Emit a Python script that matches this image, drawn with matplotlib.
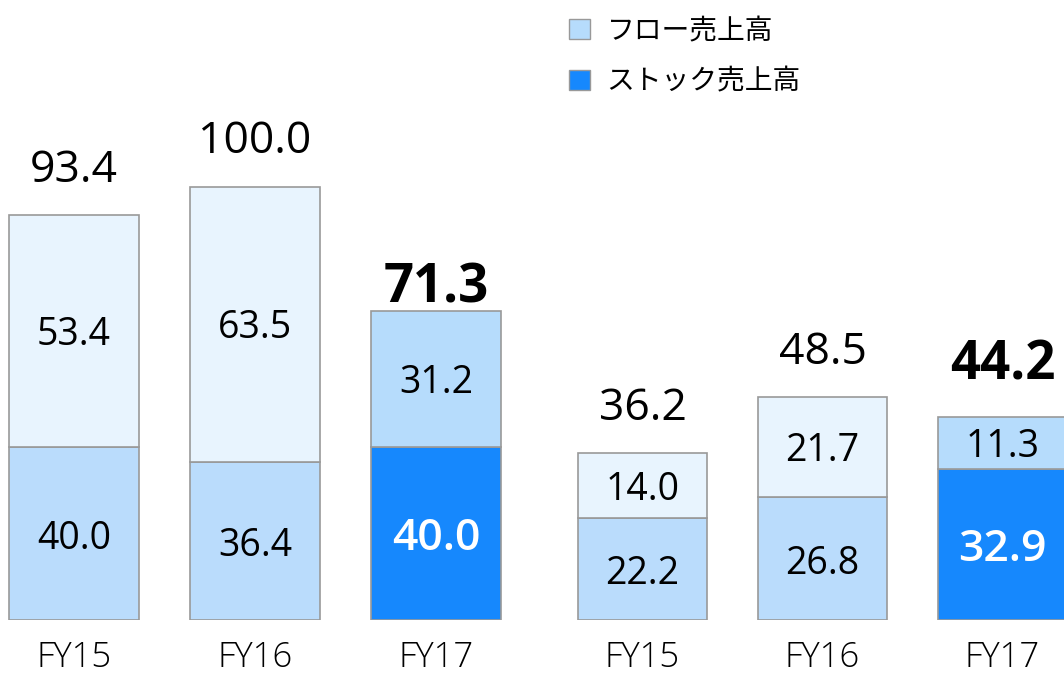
import matplotlib.pyplot as plt
from matplotlib.patches import Patch

plt.rcParams['font.family'] = ['Open Sans', 'Noto Sans CJK JP', 'DejaVu Sans']

# data
years = ["FY15", "FY16", "FY17"]
left_stock = [40.0, 36.4, 40.0]
left_flow = [53.4, 63.5, 31.2]
left_total = [93.4, 100.0, 71.3]
right_stock = [22.2, 26.8, 32.9]
right_flow = [14.0, 21.7, 11.3]
right_total = [36.2, 48.5, 44.2]

pale_flow = "#e8f4fe"
pale_stock = "#badcfc"
hi_flow = "#b6dcfc"
hi_stock = "#1688fd"
edge = "#999999"

W, H = 1064, 673
fig = plt.figure(figsize=(W / 100, H / 100), dpi=100)

base_px = 620  # baseline, from top


def draw_group(center0, pitch, width_px, px_per_unit, stock, flow, total, last_gap):
    ax = fig.add_axes([0, (H - base_px) / H, 1, base_px / H])
    ax.patch.set_alpha(0)
    ax.set_xlim(-center0 / pitch, (W - center0) / pitch)
    ax.set_ylim(0, base_px / px_per_unit)
    x = list(range(len(years)))
    w = width_px / pitch
    fc_stock = [pale_stock, pale_stock, hi_stock]
    fc_flow = [pale_flow, pale_flow, hi_flow]
    ax.bar(x, stock, w, color=fc_stock, edgecolor=edge, linewidth=1.2)
    ax.bar(x, flow, w, bottom=stock, color=fc_flow, edgecolor=edge, linewidth=1.2)
    for i in x:
        last = i == len(x) - 1
        if last:
            ax.annotate(f"{stock[i]:.1f}", (i, stock[i] / 2), xytext=(0, -12),
                        textcoords="offset points", ha="center", va="baseline",
                        fontsize=32, color="white", fontweight="semibold")
        else:
            ax.annotate(f"{stock[i]:.1f}", (i, stock[i] / 2), xytext=(0, -11),
                        textcoords="offset points", ha="center", va="baseline",
                        fontsize=27)
        ax.annotate(f"{flow[i]:.1f}", (i, stock[i] + flow[i] / 2), xytext=(0, -10),
                    textcoords="offset points", ha="center", va="baseline",
                    fontsize=27)
        ax.annotate(f"{total[i]:.1f}", (i, total[i]), xytext=(0, last_gap if last else 24),
                    textcoords="offset points", ha="center", va="baseline",
                    fontsize=38 if last else 32,
                    fontweight="bold" if last else "normal")
    ax.set_xticks(x)
    ax.set_xticklabels(years, fontsize=25, fontweight="light")
    ax.tick_params(axis="x", length=0, pad=34)
    for lbl in ax.get_xticklabels():
        lbl.set_va("baseline")
    ax.set_yticks([])
    for s in ax.spines.values():
        s.set_visible(False)
    return ax


draw_group(74, 181, 130, 4.337, left_stock, left_flow, left_total, 6)
draw_group(642.5, 180, 129, 4.6, right_stock, right_flow, right_total, 27)

handles = [Patch(facecolor=hi_flow, edgecolor=edge),
           Patch(facecolor=hi_stock, edgecolor=edge)]
fig.legend(handles, ["フロー売上高", "ストック売上高"], loc="upper left",
           bbox_to_anchor=(544 / W, 1.0 + 9 / H), frameon=False,
           prop={"family": "Noto Sans CJK JP", "size": 20},
           handlelength=0.75, handleheight=0.75, handletextpad=0.6,
           labelspacing=0.75)

fig.savefig("out.png", dpi=100)
